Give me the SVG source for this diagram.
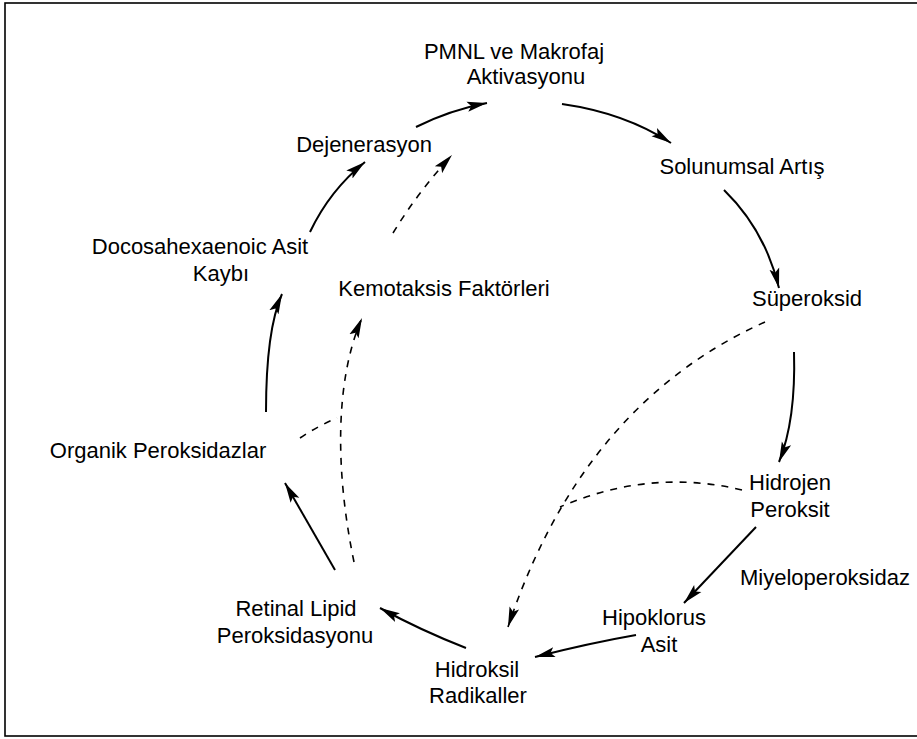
<svg xmlns="http://www.w3.org/2000/svg" width="917" height="739" viewBox="0 0 917 739">
<style>
  .t { font-family: "Liberation Sans", Arial, sans-serif; font-size: 22px; fill: #000; text-anchor: middle; }
  .s { fill: none; stroke: #000; stroke-width: 2; marker-end: url(#ah); }
  .d { fill: none; stroke: #000; stroke-width: 1.6; stroke-dasharray: 7 7; }
  .da { marker-end: url(#ah); }
</style>
<defs>
  <marker id="ah" markerUnits="userSpaceOnUse" markerWidth="22" markerHeight="12" refX="20" refY="6" orient="auto">
    <path d="M0,1 L20,6 L0,11 L4,6 z" fill="#000"/>
  </marker>
</defs>
<rect x="5" y="3" width="930" height="733" fill="#fff" stroke="#000" stroke-width="1.6"/>
<g id="connectors">
  <path class="s" d="M416,127 Q450,110 487,103"/>
  <path class="s" d="M562,104 Q625,113 671,143"/>
  <path class="s" d="M724,190 Q765,230 779,288"/>
  <path class="s" d="M794,352 Q796,420 779,462"/>
  <path class="s" d="M756,527 Q720,565 684,603"/>
  <path class="s" d="M636,635 Q590,643 535,657"/>
  <path class="s" d="M466,648 Q420,630 380,608"/>
  <path class="s" d="M335,570 L285,483"/>
  <path class="s" d="M266,412 Q266,330 282,294"/>
  <path class="s" d="M310,232 Q330,190 365,162"/>
  <path class="d da" d="M393,233 Q418,192 452,155"/>
  <path class="d da" d="M354,562 C335,470 335,380 362,318"/>
  <path class="d" d="M300,438 Q318,426 337,418"/>
  <path class="d da" d="M765,322 C680,360 570,440 508,627"/>
  <path class="d" d="M742,490 Q650,468 560,507"/>
</g>
<g id="pmnl"><text class="t" x="514" y="59">PMNL ve Makrofaj</text><text class="t" x="526" y="84">Aktivasyonu</text></g>
<g id="solunumsal"><text class="t" x="742" y="174">Solunumsal Artış</text></g>
<g id="superoksid"><text class="t" x="807" y="306">Süperoksid</text></g>
<g id="hidrojen"><text class="t" x="790" y="490">Hidrojen</text><text class="t" x="790" y="517">Peroksit</text></g>
<g id="miyeloperoksidaz"><text class="t" x="825" y="585">Miyeloperoksidaz</text></g>
<g id="hipoklorus"><text class="t" x="654" y="625">Hipoklorus</text><text class="t" x="659" y="652">Asit</text></g>
<g id="hidroksil"><text class="t" x="477" y="677">Hidroksil</text><text class="t" x="478" y="703">Radikaller</text></g>
<g id="retinal"><text class="t" x="296" y="616">Retinal Lipid</text><text class="t" x="295" y="643">Peroksidasyonu</text></g>
<g id="organik"><text class="t" x="158" y="458">Organik Peroksidazlar</text></g>
<g id="docosa"><text class="t" x="200" y="254">Docosahexaenoic Asit</text><text class="t" x="221" y="281">Kaybı</text></g>
<g id="dejenerasyon"><text class="t" x="364" y="152">Dejenerasyon</text></g>
<g id="kemotaksis"><text class="t" x="444" y="296">Kemotaksis Faktörleri</text></g>
</svg>
